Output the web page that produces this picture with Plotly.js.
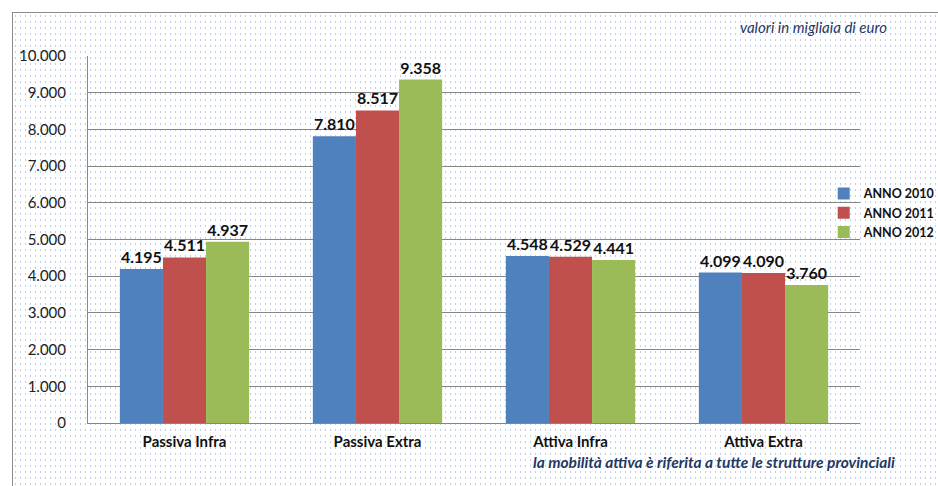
<!DOCTYPE html>
<html>
<head>
<meta charset="utf-8">
<script src="https://cdn.plot.ly/plotly-3.0.1.min.js"></script>
<style>
  html, body { margin:0; padding:0; width:938px; height:486px; overflow:hidden; background:#ffffff; }
  #bg { position:absolute; left:12px; top:12px; width:940px; height:490px; border:1px solid #8c8c8c;
        background-image: radial-gradient(circle, rgba(110,150,215,0.45) 0.55px, rgba(255,255,255,0) 0.8px);
        background-size: 5px 6px; }
  #chart { position:absolute; left:0; top:0; width:938px; height:486px; }
</style>
</head>
<body>
<div id="bg"></div>
<div id="chart"></div>
<script>
const categories = ["Passiva Infra", "Passiva Extra", "Attiva Infra", "Attiva Extra"];
const seriesNames = ["ANNO 2010", "ANNO 2011", "ANNO 2012"];
const anno2010 = [4195, 7810, 4548, 4099];
const anno2011 = [4511, 8517, 4529, 4090];
const anno2012 = [4937, 9358, 4441, 3760];
const yTicks = [0, 1000, 2000, 3000, 4000, 5000, 6000, 7000, 8000, 9000, 10000];
const noteTop = "valori in migliaia di euro";
const noteBottom = "la mobilità attiva è riferita a tutte le strutture provinciali";

const colors = ["#4F81BD", "#C0504D", "#9BBB59"];
const values = [anno2010, anno2011, anno2012];
const font = "Lato, 'Open Sans', sans-serif";

const traces = values.map((v, i) => ({
  type: "bar",
  name: seriesNames[i],
  x: categories,
  y: v,
  marker: { color: colors[i] },
  text: v,
  texttemplate: "%{y:,}",
  textposition: "outside",
  cliponaxis: false,
  textfont: { family: font, size: 16, color: "#111", weight: "bold" },
  hoverinfo: "skip"
}));

const layout = {
  width: 938, height: 486,
  separators: ",.",
  margin: { l: 88, r: 78, t: 56, b: 63, autoexpand: false },
  paper_bgcolor: "rgba(0,0,0,0)",
  plot_bgcolor: "rgba(0,0,0,0)",
  barmode: "group",
  bargap: 0.33,
  bargroupgap: 0,
  showlegend: true,
  legend: {
    x: 0.953, y: 0.665, xanchor: "left", yanchor: "top",
    font: { family: font, size: 12.5, color: "#111", weight: "bold" },
    bgcolor: "rgba(0,0,0,0)",
    itemwidth: 30,
    tracegroupgap: 0
  },
  xaxis: {
    type: "category",
    showline: true, linecolor: "#868686", linewidth: 1,
    ticks: "", ticklabelstandoff: 5,
    tickfont: { family: font, size: 15, color: "#111", weight: "bold" },
    showgrid: false, zeroline: false
  },
  yaxis: {
    range: [0, 10000],
    tickvals: yTicks,
    tickformat: ",d",
    showline: true, linecolor: "#868686", linewidth: 1,
    showgrid: true, gridcolor: "#868686", gridwidth: 1,
    zeroline: false,
    ticks: "", ticklabelstandoff: 18,
    tickfont: { family: font, size: 15, color: "#222" }
  },
  annotations: [
    { text: noteTop, xref: "paper", yref: "paper", x: 1.0375, y: 1.078, xanchor: "right", yanchor: "middle",
      showarrow: false, font: { family: font, size: 15, color: "#1F3864", style: "italic" } },
    { text: noteBottom, xref: "paper", yref: "paper", x: 1.0475, y: -0.106, xanchor: "right", yanchor: "middle",
      showarrow: false, font: { family: font, size: 15.5, color: "#1F3864", style: "italic", weight: "bold" } }
  ]
};

Plotly.newPlot("chart", traces, layout, { displayModeBar: false, staticPlot: true });
</script>
</body>
</html>
